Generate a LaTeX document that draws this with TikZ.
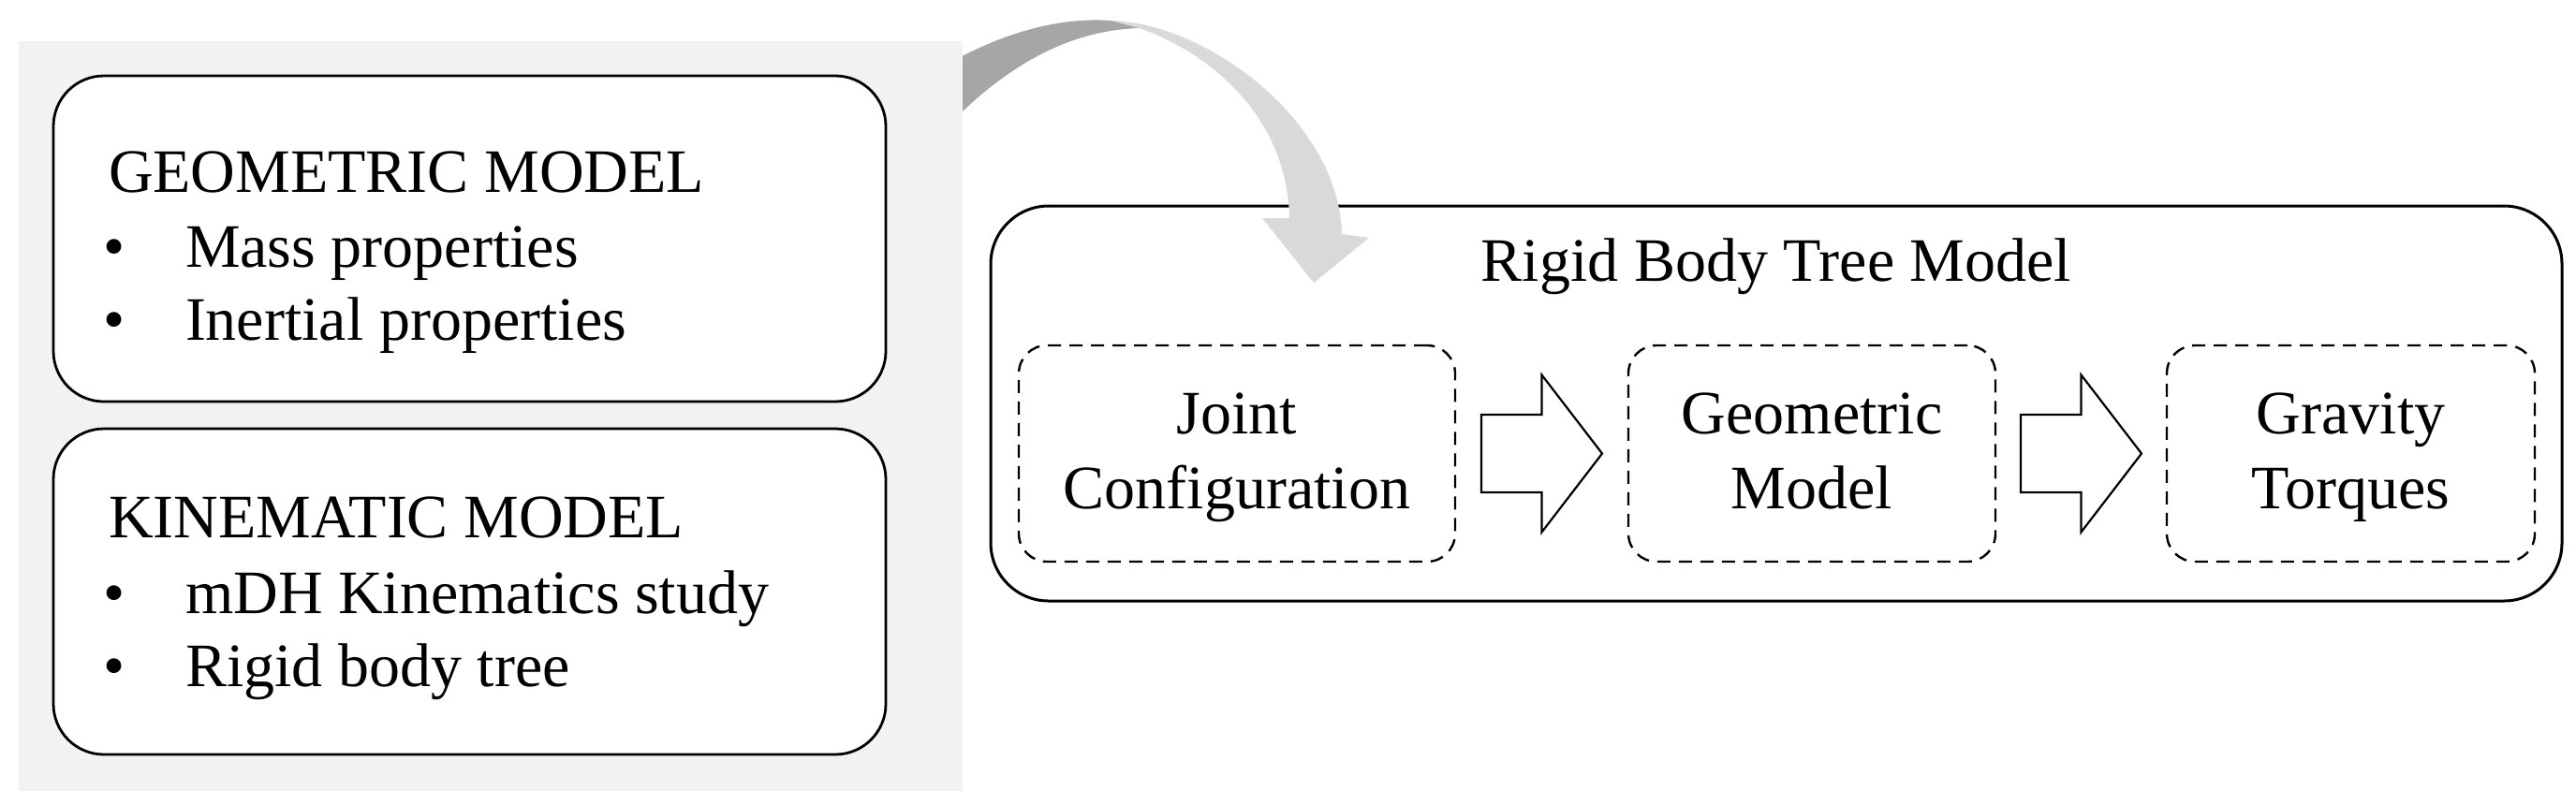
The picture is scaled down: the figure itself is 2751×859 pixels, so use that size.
\documentclass[tikz,border=0pt]{standalone}
\usepackage{fontspec}
\setmainfont{Liberation Serif}
\definecolor{panelgray}{HTML}{F2F2F2}
\definecolor{arrowdark}{HTML}{A6A6A6}
\definecolor{arrowlight}{HTML}{D9D9D9}
\tikzset{
  panel/.style={fill=panelgray, draw=none, inner sep=0, outer sep=0},
  solidbox/.style={draw=black, line width=1.4pt, rounded corners=27pt, fill=white, inner sep=0, outer sep=0},
  dashbox/.style={draw=black, line width=1.2pt, dash pattern=on 7pt off 4.5pt, rounded corners=15pt,
    inner sep=0, outer sep=0, minimum height=115.5pt},
  boxtxt/.style={align=center, inner sep=0, outer sep=0, yshift=-2.25pt, font=\fontsize{33}{40}\selectfont},
  txt/.style={inner sep=0, outer sep=0, anchor=base west, font=\fontsize{33}{40}\selectfont},
  titletxt/.style={inner sep=0, outer sep=0, anchor=base, font=\fontsize{33}{40}\selectfont},
  blockarrow/.pic={
    \draw[line width=1.1pt, fill=white, line join=miter]
      (-64.5,-41.5) -- (0,-41.5) -- (0,-84) -- (64.5,0) -- (0,84) -- (0,41.5) -- (-64.5,41.5) -- cycle;
  }
}
\begin{document}
\begin{tikzpicture}[x=0.5pt,y=-0.5pt]
\useasboundingbox (0,0) rectangle (2751,859);

% right: rigid body tree model
\node[solidbox, line width=1.5pt, rounded corners=31pt, minimum width=839pt, minimum height=211pt] (rbt) at (1897,431) {};
\node[titletxt] (rbttitle) at (1897,300) {Rigid Body Tree Model};
\node[dashbox, minimum width=233pt] (jc) at (1321,484.5) {};
\node[dashbox, minimum width=196pt] (gm) at (1935,484.5) {};
\node[dashbox, minimum width=196.5pt] (gt) at (2510.5,484.5) {};
\node[boxtxt] (jctxt) at (jc.center) {Joint\\Configuration};
\node[boxtxt] (gmtxt) at (gm.center) {Geometric\\Model\vphantom{g}};
\node[boxtxt] (gttxt) at (gt.center) {Gravity\\Torques};
\path (jc.east) -- (gm.west) pic[pos=0.5] {blockarrow};
\path (gm.east) -- (gt.west) pic[pos=0.5] {blockarrow};

% curved gray arrow
\fill[arrowdark] (1005,72) .. controls (1070,35) and (1130,18) .. (1187,22)
  -- (1217,30) .. controls (1150,32) and (1080,62) .. (1005,142) -- cycle;
\fill[arrowlight] (1187,22) .. controls (1290,25) and (1430,130) .. (1433,250)
  -- (1462,254) -- (1403,302) -- (1348,233) -- (1377,233)
  .. controls (1375,130) and (1300,60) .. (1217,30) -- cycle;

% left panel
\node[panel, minimum width=504pt, minimum height=400.5pt] (pnl) at (524,444.5) {};
\node[solidbox, minimum width=444.5pt, minimum height=174pt] (geo) at (501.5,255) {};
\node[solidbox, minimum width=444.5pt, minimum height=174pt] (kin) at (501.5,632) {};

\node[txt] (geot) at (116,205) {GEOMETRIC MODEL};
\node[txt] (geob1) at (110,285) {•};
\node[txt] (geo1) at (198,285) {Mass properties};
\node[txt] (geob2) at (110,363) {•};
\node[txt] (geo2) at (198,363) {Inertial properties};

\node[txt] (kint) at (116,574) {KINEMATIC MODEL};
\node[txt] (kinb1) at (110,655) {•};
\node[txt] (kin1) at (198,655) {mDH Kinematics study};
\node[txt] (kinb2) at (110,733) {•};
\node[txt] (kin2) at (198,733) {Rigid body tree};
\end{tikzpicture}
\end{document}
